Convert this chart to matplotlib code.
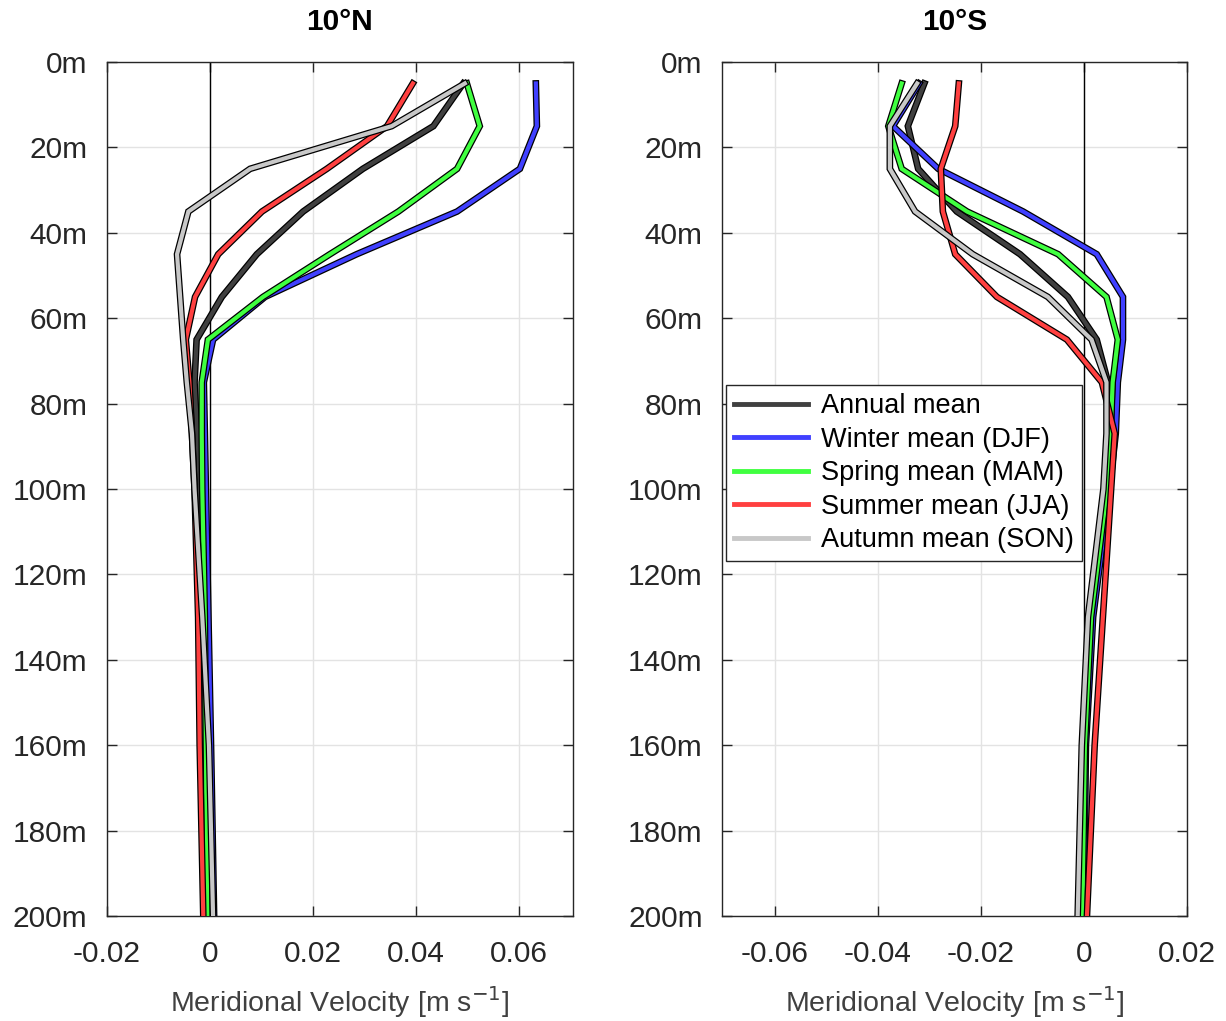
import matplotlib
matplotlib.use("Agg")
import matplotlib.pyplot as plt
import matplotlib.patheffects as pe
from matplotlib.lines import Line2D

plt.rcParams['font.family'] = ['Liberation Sans', 'DejaVu Sans']

depth = [5, 15, 25, 35, 45, 55, 65, 75, 87, 100, 130, 160, 200]

# 10N profiles [m/s]
n_annual = [0.0492, 0.0434, 0.0297, 0.0181, 0.0091, 0.0023, -0.0026, -0.0030, -0.0025, -0.0020, -0.0010, -0.0003, 0.0003]
n_winter = [0.0633, 0.0635, 0.0602, 0.0480, 0.0285, 0.0107, 0.0006, -0.0012, -0.0010, -0.0008, -0.0003, 0.0002, 0.0008]
n_spring = [0.0499, 0.0524, 0.0480, 0.0366, 0.0233, 0.0103, -0.0004, -0.0016, -0.0016, -0.0015, -0.0010, -0.0008, -0.0005]
n_summer = [0.0394, 0.0344, 0.0227, 0.0101, 0.0016, -0.0029, -0.0047, -0.0040, -0.0035, -0.0030, -0.0023, -0.0020, -0.0013]
n_autumn = [0.0495, 0.0353, 0.0078, -0.0042, -0.0064, -0.0058, -0.0052, -0.0045, -0.0035, -0.0030, -0.0015, -0.0002, 0.0006]

# 10S profiles [m/s]
s_annual = [-0.0310, -0.0342, -0.0322, -0.0247, -0.0124, -0.0031, 0.0025, 0.0047, 0.0048, 0.0042, 0.0012, 0.0000, -0.0005]
s_winter = [-0.0320, -0.0371, -0.0283, -0.0118, 0.0025, 0.0076, 0.0076, 0.0066, 0.0062, 0.0050, 0.0018, 0.0004, 0.0000]
s_spring = [-0.0354, -0.0380, -0.0354, -0.0227, -0.0050, 0.0044, 0.0066, 0.0056, 0.0052, 0.0045, 0.0014, 0.0002, -0.0003]
s_summer = [-0.0243, -0.0250, -0.0278, -0.0274, -0.0250, -0.0169, -0.0033, 0.0035, 0.0060, 0.0053, 0.0037, 0.0021, 0.0006]
s_autumn = [-0.0324, -0.0377, -0.0377, -0.0328, -0.0216, -0.0070, 0.0015, 0.0044, 0.0044, 0.0038, 0.0008, -0.0004, -0.0012]

labels = ['Annual mean', 'Winter mean (DJF)', 'Spring mean (MAM)',
          'Summer mean (JJA)', 'Autumn mean (SON)']
colors = ['#404040', '#4040ff', '#40ff40', '#ff4040', '#c8c8c8']
north = [n_annual, n_winter, n_spring, n_summer, n_autumn]
south = [s_annual, s_winter, s_spring, s_summer, s_autumn]

axcol = '#262626'
fig = plt.figure(figsize=(12.26, 10.21), dpi=100)
ax1 = fig.add_axes([0.0873, 0.1028, 0.380, 0.8364])
ax2 = fig.add_axes([0.589, 0.1028, 0.379, 0.8364])


def draw(ax, profiles, xlim, xticks, title):
    ax.axvline(0, color='k', lw=1.0, zorder=1)
    for prof, c in zip(profiles, colors):
        ax.plot(prof, depth, color=c, lw=3.0, solid_joinstyle='miter', zorder=3,
                path_effects=[pe.Stroke(linewidth=4.8, foreground='k'), pe.Normal()])
    ax.set_xlim(xlim)
    ax.set_ylim(200, 0)
    ax.set_xticks(xticks)
    ax.set_xticklabels(['0' if t == 0 else ('%g' % t) for t in xticks])
    ax.set_yticks(range(0, 201, 20))
    ax.set_yticklabels(['%dm' % d for d in range(0, 201, 20)])
    ax.grid(True, color='#e3e3e3', lw=1.0)
    ax.set_axisbelow(True)
    ax.tick_params(direction='in', length=7, width=1, colors=axcol,
                   labelsize=21.5, top=True, right=True)
    ax.tick_params(axis='y', pad=14)
    ax.tick_params(axis='x', pad=17)
    for s in ax.spines.values():
        s.set_color(axcol)
        s.set_linewidth(1.0)
    ax.set_title(title, fontsize=21.5, fontweight='bold', pad=23)
    ax.set_xlabel('Meridional Velocity [m s$^{-1}$]', fontsize=20.5,
                  color='#404040', labelpad=12)


draw(ax1, north, (-0.02, 0.0705), [-0.02, 0, 0.02, 0.04, 0.06], '10°N')
draw(ax2, south, (-0.0703, 0.02), [-0.06, -0.04, -0.02, 0, 0.02], '10°S')

handles = [Line2D([], [], color=c, lw=3.5) for c in colors]
leg = ax2.legend(handles, labels, loc='upper left', bbox_to_anchor=(0.008, 0.622),
                 fontsize=19.5, frameon=True, fancybox=False, borderaxespad=0,
                 handlelength=2.75, handletextpad=0.45, labelspacing=0.28,
                 borderpad=0.3)
leg.get_frame().set_edgecolor(axcol)
leg.get_frame().set_linewidth(1.0)
leg.get_frame().set_alpha(1)

fig.savefig('out.png', dpi=100)
